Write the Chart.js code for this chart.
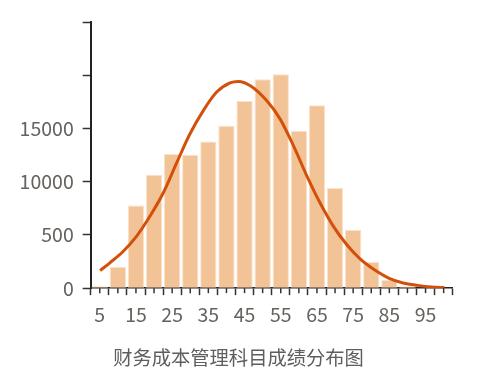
<!DOCTYPE html>
<html>
<head>
<meta charset="utf-8">
<script src="https://cdn.jsdelivr.net/npm/chart.js@4.4.1/dist/chart.umd.min.js"></script>
<style>
  body { margin: 0; background: #fff; }
  #wrap { width: 496px; height: 391px; position: relative; }
</style>
</head>
<body>
<div id="wrap"><canvas id="hist"></canvas></div>
<script>
// histogram bins (score centres) and counts
const scoreBins = ['5', '10', '15', '20', '25', '30', '35', '40', '45', '50',
                   '55', '60', '65', '70', '75', '80', '85', '90', '95', '100'];
const binCounts = [170, 2010, 7760, 10660, 12610, 12520, 13770, 15260, 17580, 19620,
                   20090, 14750, 17170, 9410, 5450, 2450, 790, 170, 70, 30];

// fitted curve
const curveScores = [5.1, 7.8, 11.5, 15.2, 18.9, 22.6, 26.3, 29.9, 33.6, 37.3, 41.0, 43.3,
                     46.5, 51.1, 54.8, 58.5, 62.2, 65.8, 69.5, 73.2, 76.9, 81.5, 85.1,
                     88.8, 92.8, 96.6, 100.2];
const curveValues = [1650, 2380, 3470, 4890, 6770, 8980, 11810, 14480, 16680, 18420, 19290, 19420,
                     19040, 17620, 15900, 13380, 10550, 8040, 5830, 4100, 2750, 1590, 900,
                     490, 260, 110, 50];

const yTickLabels = ['0', '500', '10000', '15000', '', ''];
const titleText = '财务成本管理科目成绩分布图';

const tickFont = { family: '"Noto Sans CJK SC", "Noto Sans", sans-serif', size: 19.5 };

// short ticks at the bin centres
const minorTicks = {
  id: 'minorTicks',
  afterDraw(chart) {
    const xs = chart.scales.x;
    const ctx = chart.ctx;
    const y0 = chart.chartArea.bottom;
    ctx.save();
    ctx.strokeStyle = '#333';
    ctx.lineWidth = 1.5;
    for (let i = 0; i < scoreBins.length; i++) {
      const px = xs.getPixelForValue(i);
      ctx.beginPath();
      ctx.moveTo(px, y0);
      ctx.lineTo(px, y0 + 5);
      ctx.stroke();
    }
    ctx.restore();
  }
};

new Chart(document.getElementById('hist'), {
  type: 'bar',
  data: {
    labels: scoreBins,
    datasets: [{
      type: 'line',
      data: curveScores.map((s, i) => ({ x: s, y: curveValues[i] })),
      xAxisID: 'x2',
      borderColor: '#d2500a',
      borderWidth: 3,
      pointRadius: 0,
      tension: 0.4,
      cubicInterpolationMode: 'monotone',
      fill: false
    }, {
      type: 'bar',
      data: binCounts,
      xAxisID: 'x',
      grouped: false,
      backgroundColor: '#f2c396',
      borderColor: 'rgba(250,222,195,0.9)',
      borderWidth: 1,
      barPercentage: 0.9,
      categoryPercentage: 1
    }]
  },
  options: {
    responsive: true,
    maintainAspectRatio: false,
    animation: false,
    layout: { padding: { top: 22, left: 0, right: 19, bottom: 0 } },
    plugins: {
      legend: { display: false },
      tooltip: { enabled: false },
      title: {
        display: true,
        position: 'bottom',
        text: titleText,
        color: '#5e5e5e',
        font: { family: '"Noto Sans CJK SC", sans-serif', size: 19.3, weight: 'normal' },
        padding: { top: 18, bottom: 21.7 }
      }
    },
    scales: {
      x: {
        type: 'category',
        offset: true,
        grid: { offset: true, drawOnChartArea: false, tickLength: 7, tickColor: '#333', tickWidth: 1.5 },
        border: { color: '#222', width: 1.5 },
        ticks: {
          autoSkip: false, maxRotation: 0, padding: 8,
          color: '#66625e', font: tickFont,
          callback: (v, i) => (i % 2 === 0 ? scoreBins[i] : '')
        },
        afterFit: (s) => { s.height = 40; }
      },
      x2: { type: 'linear', min: 2.5, max: 102.5, offset: false, display: false },
      y: {
        min: 0, max: 25000,
        grid: { drawOnChartArea: false, tickLength: 8, tickColor: '#333', tickWidth: 1.5 },
        border: { color: '#222', width: 2 },
        ticks: {
          stepSize: 5000, padding: 9,
          color: '#66625e', font: tickFont,
          callback: (v, i) => yTickLabels[i]
        },
        afterFit: (s) => { s.width = 90.7; }
      },
      // empty spacer on the right so the title sits where it does in the picture
      y2: {
        position: 'right', min: 0, max: 25000,
        grid: { display: false }, border: { display: false }, ticks: { display: false },
        afterFit: (s) => { s.width = 24.3; }
      }
    }
  },
  plugins: [minorTicks]
});
</script>
</body>
</html>
